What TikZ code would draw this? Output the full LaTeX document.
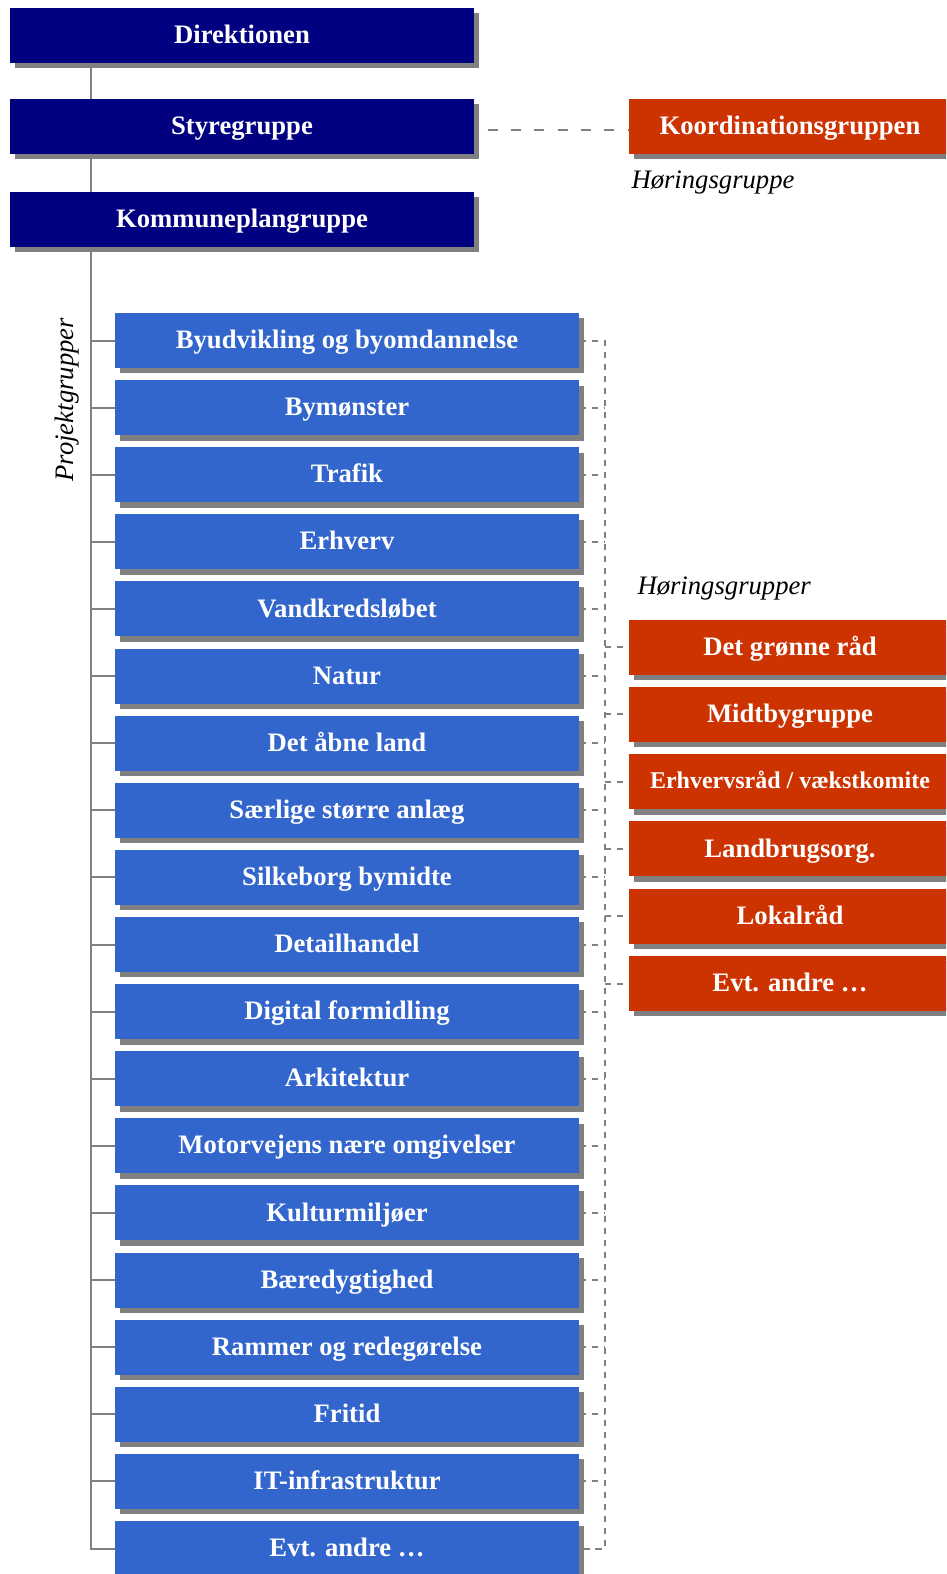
\documentclass[tikz,border=0pt]{standalone}
\usepackage{fontspec}
\setmainfont{Liberation Serif}
\usetikzlibrary{shadows}

\tikzset{
	boxtext/.style={text=white, font=\fontsize{20}{24}\selectfont\bfseries, text height=15.5pt, text depth=3.3pt, inner sep=0pt},
	boxshadow/.style={drop shadow={shadow xshift=4.1pt, shadow yshift=-4.1pt, fill={rgb, 255:red, 128; green, 128; blue, 128 }, opacity=1}},
	navybox/.style={boxtext, boxshadow, fill={rgb, 255:red, 0; green, 0; blue, 128 }, minimum width=348pt, minimum height=41.25pt},
	projbox/.style={boxtext, boxshadow, fill={rgb, 255:red, 51; green, 102; blue, 204 }, minimum width=348pt, minimum height=41.25pt},
	hoerbox/.style={boxtext, boxshadow, fill={rgb, 255:red, 204; green, 51; blue, 0 }, minimum width=241.5pt, minimum height=41.25pt},
	orgline/.style={draw={rgb, 255:red, 128; green, 128; blue, 128 }, line width=1.5pt},
	longdash/.style={orgline, dash pattern=on 7.5pt off 10pt},
	shortdash/.style={orgline, dash pattern=on 5pt off 4pt},
	grouplabel/.style={font=\fontsize{20}{24}\selectfont\itshape, inner sep=0pt}}
\tikzset{every picture/.style={line width=0.75pt}}

\begin{document}
\begin{tikzpicture}[x=0.75pt,y=0.75pt,yscale=-1,xscale=1]
	%set diagram left start at 0, and has height of 1574
	\useasboundingbox (0,0) rectangle (946,1574);
	\clip (0,0) rectangle (946,1574);

	% Text Node
	\draw (242,35.5) node [navybox] (direktionen) {Direktionen};
	% Text Node
	\draw (242,126.5) node [navybox] (styregruppe) {Styregruppe};
	% Text Node
	\draw (242,219.5) node [navybox] (kommuneplan) {Kommuneplangruppe};
	% Text Node
	\draw (790,126.5) node [hoerbox] (koordination) {Koordinationsgruppen};
	% Text Node
	\draw (631,188) node [grouplabel, anchor=base west] (hoeringsgruppe) {Høringsgruppe};
	% Text Node
	\draw (73,482) node [grouplabel, anchor=base west, rotate=90] (projektgrupper) {Projektgrupper};

	% Text Node
	\draw (347,340.5) node [projbox] (byudvikling) {Byudvikling og byomdannelse};
	% Text Node
	\draw (347,407.6) node [projbox] (bymoenster) {Bymønster};
	% Text Node
	\draw (347,474.7) node [projbox] (trafik) {Trafik};
	% Text Node
	\draw (347,541.8) node [projbox] (erhverv) {Erhverv};
	% Text Node
	\draw (347,608.9) node [projbox] (vandkreds) {Vandkredsløbet};
	% Text Node
	\draw (347,676.1) node [projbox] (natur) {Natur};
	% Text Node
	\draw (347,743.2) node [projbox] (aabneland) {Det åbne land};
	% Text Node
	\draw (347,810.3) node [projbox] (anlaeg) {Særlige større anlæg};
	% Text Node
	\draw (347,877.4) node [projbox] (bymidte) {Silkeborg bymidte};
	% Text Node
	\draw (347,944.5) node [projbox] (detailhandel) {Detailhandel};
	% Text Node
	\draw (347,1011.6) node [projbox] (digital) {Digital formidling};
	% Text Node
	\draw (347,1078.7) node [projbox] (arkitektur) {Arkitektur};
	% Text Node
	\draw (347,1145.8) node [projbox] (motorvej) {Motorvejens nære omgivelser};
	% Text Node
	\draw (347,1212.9) node [projbox] (kulturmiljoe) {Kulturmiljøer};
	% Text Node
	\draw (347,1280) node [projbox] (baeredygtig) {Bæredygtighed};
	% Text Node
	\draw (347,1347.2) node [projbox] (rammer) {Rammer og redegørelse};
	% Text Node
	\draw (347,1414.3) node [projbox] (fritid) {Fritid};
	% Text Node
	\draw (347,1481.4) node [projbox] (itinfra) {IT-infrastruktur};
	% Text Node
	\draw (347,1548.5) node [projbox] (pgandre) {Evt. andre …};

	% Text Node
	\draw (637,594) node [grouplabel, anchor=base west] (hoeringsgrupper) {Høringsgrupper};
	% Text Node
	\draw (790,647) node [hoerbox] (groenneraad) {Det grønne råd};
	% Text Node
	\draw (790,714.3) node [hoerbox] (midtby) {Midtbygruppe};
	% Text Node
	\draw (790,781.6) node [hoerbox, font=\fontsize{18}{22}\selectfont\bfseries, text height=13pt, text depth=3.3pt] (erhvervsraad) {Erhvervsråd / vækstkomite};
	% Text Node
	\draw (790,848.9) node [hoerbox] (landbrug) {Landbrugsorg.};
	% Text Node
	\draw (790,916.2) node [hoerbox] (lokalraad) {Lokalråd};
	% Text Node
	\draw (790,983.5) node [hoerbox] (hgandre) {Evt. andre …};

	%Straight Lines: trunk of the organisation
	\coordinate (trunk) at ([shift={(81,0)}]direktionen.south west);
	\draw [orgline] (trunk) -- (styregruppe.north -| trunk);
	\draw [orgline] (styregruppe.south -| trunk) -- (kommuneplan.north -| trunk);
	\draw [orgline] (kommuneplan.south -| trunk) |- (pgandre.west);
	\draw [orgline] (byudvikling.west -| trunk) -- (byudvikling.west);
	\draw [orgline] (bymoenster.west -| trunk) -- (bymoenster.west);
	\draw [orgline] (trafik.west -| trunk) -- (trafik.west);
	\draw [orgline] (erhverv.west -| trunk) -- (erhverv.west);
	\draw [orgline] (vandkreds.west -| trunk) -- (vandkreds.west);
	\draw [orgline] (natur.west -| trunk) -- (natur.west);
	\draw [orgline] (aabneland.west -| trunk) -- (aabneland.west);
	\draw [orgline] (anlaeg.west -| trunk) -- (anlaeg.west);
	\draw [orgline] (bymidte.west -| trunk) -- (bymidte.west);
	\draw [orgline] (detailhandel.west -| trunk) -- (detailhandel.west);
	\draw [orgline] (digital.west -| trunk) -- (digital.west);
	\draw [orgline] (arkitektur.west -| trunk) -- (arkitektur.west);
	\draw [orgline] (motorvej.west -| trunk) -- (motorvej.west);
	\draw [orgline] (kulturmiljoe.west -| trunk) -- (kulturmiljoe.west);
	\draw [orgline] (baeredygtig.west -| trunk) -- (baeredygtig.west);
	\draw [orgline] (rammer.west -| trunk) -- (rammer.west);
	\draw [orgline] (fritid.west -| trunk) -- (fritid.west);
	\draw [orgline] (itinfra.west -| trunk) -- (itinfra.west);

	%Dashed Lines: coordination
	\draw [longdash] ([shift={(13,3.5)}]styregruppe.east) -- ([shift={(0,3.5)}]koordination.west);

	%Dashed Lines: hearing bus
	\coordinate (bus) at ([shift={(25,0)}]byudvikling.east);
	\draw [shortdash] (byudvikling.east) -- (bus) |- (pgandre.east);
	\draw [shortdash] (bymoenster.east) -- (bymoenster.east -| bus);
	\draw [shortdash] (trafik.east) -- (trafik.east -| bus);
	\draw [shortdash] (erhverv.east) -- (erhverv.east -| bus);
	\draw [shortdash] (vandkreds.east) -- (vandkreds.east -| bus);
	\draw [shortdash] (natur.east) -- (natur.east -| bus);
	\draw [shortdash] (aabneland.east) -- (aabneland.east -| bus);
	\draw [shortdash] (anlaeg.east) -- (anlaeg.east -| bus);
	\draw [shortdash] (bymidte.east) -- (bymidte.east -| bus);
	\draw [shortdash] (detailhandel.east) -- (detailhandel.east -| bus);
	\draw [shortdash] (digital.east) -- (digital.east -| bus);
	\draw [shortdash] (arkitektur.east) -- (arkitektur.east -| bus);
	\draw [shortdash] (motorvej.east) -- (motorvej.east -| bus);
	\draw [shortdash] (kulturmiljoe.east) -- (kulturmiljoe.east -| bus);
	\draw [shortdash] (baeredygtig.east) -- (baeredygtig.east -| bus);
	\draw [shortdash] (rammer.east) -- (rammer.east -| bus);
	\draw [shortdash] (fritid.east) -- (fritid.east -| bus);
	\draw [shortdash] (itinfra.east) -- (itinfra.east -| bus);
	\draw [shortdash] (groenneraad.west -| bus) -- (groenneraad.west);
	\draw [shortdash] (midtby.west -| bus) -- (midtby.west);
	\draw [shortdash] (erhvervsraad.west -| bus) -- (erhvervsraad.west);
	\draw [shortdash] (landbrug.west -| bus) -- (landbrug.west);
	\draw [shortdash] (lokalraad.west -| bus) -- (lokalraad.west);
	\draw [shortdash] (hgandre.west -| bus) -- (hgandre.west);

\end{tikzpicture}
\end{document}
